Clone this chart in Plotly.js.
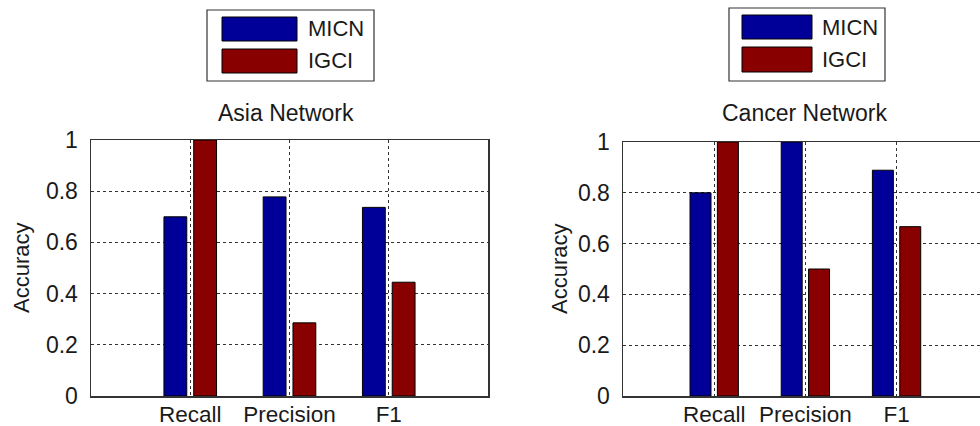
<!DOCTYPE html>
<html>
<head>
<meta charset="utf-8">
<script src="https://cdn.plot.ly/plotly-3.0.1.min.js"></script>
<style>html,body{margin:0;padding:0;background:#fff;}#chart{width:980px;height:426px;}</style>
</head>
<body>
<div id="chart"></div>
<script>
// ---- data ----
const categories = ['Recall', 'Precision', 'F1'];
const seriesNames = ['MICN', 'IGCI'];
const asiaMICN = [0.70, 0.7778, 0.7368];
const asiaIGCI = [1.00, 0.2857, 0.4444];
const cancerMICN = [0.80, 1.00, 0.8889];
const cancerIGCI = [1.00, 0.50, 0.6667];
const yTicks = [0, 0.2, 0.4, 0.6, 0.8, 1];
const yTickLabels = ['0', '0.2', '0.4', '0.6', '0.8', '1'];
const panelTitles = ['Asia Network', 'Cancer Network'];
const yTitle = 'Accuracy';

// ---- style ----
const colors = ['#000099', '#880000'];
const FONT = 'Liberation Sans, Arial, sans-serif';
const TXT = '#1a1a1a';
const W = 980, H = 426;
const px = x => x / W;
const py = y => 1 - y / H;

function barTrace(vals, idx, xa, ya) {
  return {
    type: 'bar', x: categories, y: vals, name: seriesNames[idx],
    xaxis: xa, yaxis: ya,
    marker: {color: colors[idx], line: {color: '#000', width: 1}},
    width: 0.23, offset: idx === 0 ? -0.265 : 0.035,
    showlegend: false, hoverinfo: 'x+y+name'
  };
}

const data = [
  barTrace(asiaMICN, 0, 'x', 'y'),
  barTrace(asiaIGCI, 1, 'x', 'y'),
  barTrace(cancerMICN, 0, 'x2', 'y2'),
  barTrace(cancerIGCI, 1, 'x2', 'y2')
];

function xAxis(domain, range, anchor, mirror) {
  return {
    domain: domain, anchor: anchor, type: 'category', range: range,
    showgrid: true, gridcolor: '#333', gridwidth: 1, griddash: '3px,3px',
    showline: true, linecolor: '#333', linewidth: 1.5, mirror: mirror,
    ticks: '', ticklabelstandoff: -3, zeroline: false,
    tickfont: {family: FONT, size: 22.5, color: TXT}, fixedrange: true
  };
}
function yAxis(domain, anchor, mirror) {
  return {
    domain: domain, anchor: anchor, range: [0, 1],
    tickvals: yTicks, ticktext: yTickLabels,
    showgrid: true, gridcolor: '#333', gridwidth: 1, griddash: '3px,3px',
    showline: true, linecolor: '#333', linewidth: 1.5, mirror: mirror,
    ticks: '', ticklabelstandoff: 7, zeroline: false,
    tickfont: {family: FONT, size: 23, color: TXT}, fixedrange: true
  };
}

const shapes = [];
const annotations = [];

function legend(box, patches, textX) {
  shapes.push({type: 'rect', xref: 'paper', yref: 'paper',
    x0: px(box[0]), x1: px(box[1]), y0: py(box[2]), y1: py(box[3]),
    line: {color: '#333', width: 1.2}, fillcolor: '#fff'});
  patches.forEach((p, i) => {
    shapes.push({type: 'rect', xref: 'paper', yref: 'paper',
      x0: px(p[0]), x1: px(p[1]), y0: py(p[2]), y1: py(p[3]),
      line: {color: '#000', width: 1}, fillcolor: colors[i]});
    annotations.push({xref: 'paper', yref: 'paper', x: px(textX), y: py((p[2] + p[3]) / 2),
      xanchor: 'left', yanchor: 'middle', showarrow: false, text: seriesNames[i],
      font: {family: FONT, size: 22, color: TXT}});
  });
}
legend([207, 374, 10, 81], [[222, 297, 17, 41], [222, 297, 49, 73]], 306);
legend([729, 885, 8, 81], [[742, 812, 15, 39], [742, 812, 47, 72]], 820);

[[286, 113], [804, 113]].forEach((p, i) => {
  annotations.push({xref: 'paper', yref: 'paper', x: px(p[0]), y: py(p[1]),
    xanchor: 'center', yanchor: 'middle', showarrow: false, text: panelTitles[i],
    font: {family: FONT, size: 23, color: TXT}});
});
[[21, 268], [559, 269]].forEach(p => {
  annotations.push({xref: 'paper', yref: 'paper', x: px(p[0]), y: py(p[1]),
    xanchor: 'center', yanchor: 'middle', showarrow: false, text: yTitle, textangle: -90,
    font: {family: FONT, size: 22, color: TXT}});
});

const layout = {
  width: W, height: H,
  margin: {l: 0, r: 0, t: 0, b: 0},
  paper_bgcolor: '#fff', plot_bgcolor: '#fff',
  barmode: 'group', showlegend: false,
  xaxis: xAxis([px(91), px(488)], [-1, 3], 'y', true),
  yaxis: yAxis([py(396), py(140)], 'x', true),
  xaxis2: xAxis([px(623), 1], [-1, 2.915], 'y2', true),
  yaxis2: yAxis([py(396), py(142)], 'x2', false),
  shapes: shapes, annotations: annotations
};

Plotly.newPlot('chart', data, layout, {displayModeBar: false, staticPlot: true});
</script>
</body>
</html>
